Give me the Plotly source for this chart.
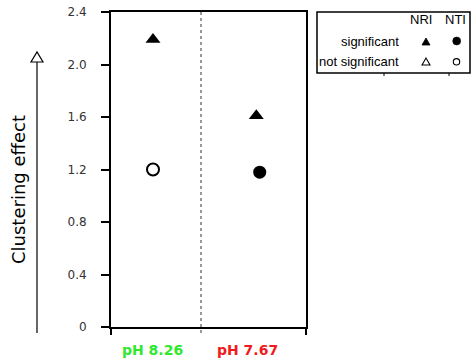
import plotly.graph_objects as go

# ---- data ----
groups = ["pH 8.26", "pH 7.67"]
group_colors = ["#2ee82e", "#ee1c1c"]
nri_values = [2.19, 1.61]
nri_significant = [True, True]
nti_values = [1.20, 1.18]
nti_significant = [False, True]
y_ticks = [0, 0.4, 0.8, 1.2, 1.6, 2.0, 2.4]
y_tick_labels = ["0", "0.4", "0.8", "1.2", "1.6", "2.0", "2.4"]
y_title = "Clustering effect"
legend_cols = ["NRI", "NTI"]
legend_rows = ["significant", "not significant"]

# ---- layout geometry (pixels) ----
W, H = 471, 364
L, R, T, B = 111, 306, 12, 327
PW, PH = R - L, B - T


def px(x):
    return (x - L) / PW


def py(y):
    return (B - y) / PH


x_pos = list(range(len(groups)))
nti_shift = [0.0, 0.033]
x_range = [-0.4066, 1.481]
divider = 0.4647

fig = go.Figure()

fig.add_trace(go.Scatter(
    x=x_pos, y=nri_values, mode="markers", name="NRI",
    marker=dict(symbol="triangle-up", size=13, opacity=1,
                color=["black" if s else "white" for s in nri_significant],
                line=dict(color="black", width=[0 if s else 2 for s in nri_significant])),
    showlegend=False, cliponaxis=False,
))
fig.add_trace(go.Scatter(
    x=[p + s for p, s in zip(x_pos, nti_shift)], y=nti_values, mode="markers", name="NTI",
    marker=dict(symbol="circle", size=[13 if s else 12 for s in nti_significant], opacity=1,
                color=["#000000" if s else "#ffffff" for s in nti_significant],
                line=dict(color="#000000", width=[0 if s else 2 for s in nti_significant])),
    showlegend=False, cliponaxis=False,
))

shapes = []
# divider (dotted)
shapes.append(dict(type="line", xref="x", yref="paper", x0=divider, x1=divider,
                   y0=py(333), y1=1, line=dict(color="#777777", width=1.5, dash="dot")))
# vertical arrow at left
shapes.append(dict(type="line", xref="paper", yref="paper", x0=px(37), x1=px(37),
                   y0=py(333), y1=py(62), line=dict(color="black", width=1.2)))
shapes.append(dict(type="path", xref="paper", yref="paper",
                   path=f"M {px(31)} {py(62)} L {px(43)} {py(62)} L {px(37)} {py(52)} Z",
                   fillcolor="white", line=dict(color="black", width=1.2)))
# legend box
shapes.append(dict(type="rect", xref="paper", yref="paper", x0=px(317), x1=px(470),
                   y0=py(73), y1=py(12), line=dict(color="black", width=1.5),
                   fillcolor="rgba(0,0,0,0)"))
for tx in (384, 449):
    shapes.append(dict(type="line", xref="paper", yref="paper", x0=px(tx), x1=px(tx),
                       y0=py(76), y1=py(73), line=dict(color="black", width=1)))
# legend symbols
def tri(cx, cy, w, h):
    return (f"M {px(cx - w / 2)} {py(cy + h / 2)} L {px(cx + w / 2)} {py(cy + h / 2)} "
            f"L {px(cx)} {py(cy - h / 2)} Z")

shapes.append(dict(type="path", xref="paper", yref="paper", path=tri(426, 41.5, 8, 7),
                   fillcolor="black", line=dict(color="black", width=0.8)))
shapes.append(dict(type="path", xref="paper", yref="paper", path=tri(426, 61.5, 8, 7),
                   fillcolor="white", line=dict(color="black", width=1.1)))
shapes.append(dict(type="circle", xref="paper", yref="paper", x0=px(452.7), x1=px(460.7),
                   y0=py(45), y1=py(37), fillcolor="black", line=dict(color="black", width=0.5)))
shapes.append(dict(type="circle", xref="paper", yref="paper", x0=px(453.3), x1=px(459.7),
                   y0=py(65), y1=py(58.6), fillcolor="white", line=dict(color="black", width=1.1)))

annotations = []
# category labels
for i, (g, c) in enumerate(zip(groups, group_colors)):
    cx = [152, 247][i]
    annotations.append(dict(text=f"<b>{g}</b>", xref="paper", yref="paper", x=px(cx), y=py(350),
                            xanchor="center", yanchor="middle", showarrow=False,
                            font=dict(family="DejaVu Sans", size=14, color=c)))
# y title
annotations.append(dict(text=y_title, xref="paper", yref="paper", x=px(18), y=py(190),
                        textangle=-90, xanchor="center", yanchor="middle", showarrow=False,
                        font=dict(family="DejaVu Sans", size=18, color="black")))
# legend texts
leg_font = dict(family="Liberation Sans", size=13, color="black")
for name, cx in zip(legend_cols, (421, 455)):
    annotations.append(dict(text=name, xref="paper", yref="paper", x=px(cx), y=py(19),
                            xanchor="center", yanchor="middle", showarrow=False, font=leg_font))
for name, cy in zip(legend_rows, (41, 61)):
    annotations.append(dict(text=name, xref="paper", yref="paper", x=px(401), y=py(cy),
                            xanchor="right", yanchor="middle", showarrow=False, font=leg_font))

fig.update_layout(
    template="none",
    width=W, height=H,
    margin=dict(l=L, r=W - R, t=T, b=H - B, pad=0, autoexpand=False),
    paper_bgcolor="white", plot_bgcolor="white",
    shapes=shapes, annotations=annotations,
    xaxis=dict(range=x_range, showgrid=False, zeroline=False, showline=True, mirror=True,
               automargin=False,
               linecolor="black", linewidth=2, tickmode="array", tickvals=[x_range[0] + 0.002, x_range[1] - 0.002],
               ticktext=["", ""], ticks="outside", ticklen=6, tickwidth=2, tickcolor="black",
               fixedrange=True),
    yaxis=dict(range=[0, 2.4], showgrid=False, zeroline=False, showline=True, mirror=True,
               automargin=False,
               linecolor="black", linewidth=2, tickmode="array", tickvals=y_ticks,
               ticktext=y_tick_labels, ticks="outside", ticklen=8, tickwidth=2, tickcolor="black",
               ticklabelstandoff=12,
               tickfont=dict(family="DejaVu Sans", size=12, color="#333333"), fixedrange=True),
)

fig.write_html("out.html", config={"displayModeBar": False},
               post_script="document.body.style.margin='0';document.body.style.overflow='hidden';")
